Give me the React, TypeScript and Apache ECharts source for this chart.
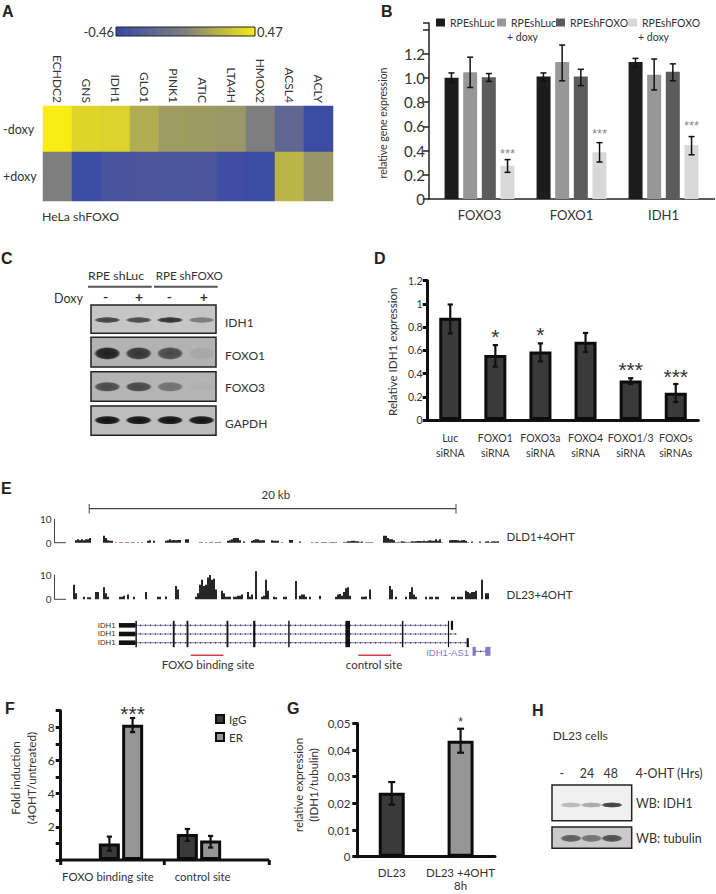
import React, { useEffect, useRef } from "react";
import * as echarts from "echarts";

const SANS = "Lato";
const ARIAL = "Liberation Sans";
const INK = "#333333";

// Panel A
const heatGenes = ["ECHDC2", "GNS", "IDH1", "GLO1", "PINK1", "ATIC", "LTA4H", "HMOX2", "ACSL4", "ACLY"];
const heatMinusDoxy = [0.47, 0.37, 0.36, 0.2, 0.13, 0.12, 0.11, 0.0, -0.2, -0.42];
const heatPlusDoxy = [0.0, -0.42, -0.35, -0.34, -0.33, -0.34, -0.41, -0.42, 0.24, 0.1];
const heatColors = ["#3747a6", "#7f7f7f", "#f7ec13"];
const heatRange = [-0.46, 0.47];

// Panel B
const bGroups = ["FOXO3", "FOXO1", "IDH1"];
const bNames = ["RPEshLuc", "RPEshLuc + doxy", "RPEshFOXO", "RPEshFOXO + doxy"];
const bColors = ["#1c1c1c", "#979797", "#5c5c5c", "#d8d8d8"];
const bValues = [
  [1.0, 1.01, 1.13],
  [1.045, 1.13, 1.025],
  [1.005, 1.01, 1.05],
  [0.275, 0.385, 0.445],
];
const bLow = [
  [0.96, 0.975, 1.09],
  [0.92, 0.975, 0.9],
  [0.97, 0.935, 0.975],
  [0.22, 0.305, 0.365],
];
const bHigh = [
  [1.04, 1.04, 1.16],
  [1.17, 1.27, 1.155],
  [1.035, 1.07, 1.115],
  [0.325, 0.465, 0.515],
];
const bStarY = [0.413, 0.575, 0.646];

// Panel D
const dCats = ["Luc\nsiRNA", "FOXO1\nsiRNA", "FOXO3a\nsiRNA", "FOXO4\nsiRNA", "FOXO1/3\nsiRNA", "FOXOs\nsiRNAs"];
const dValues = [0.88, 0.56, 0.59, 0.675, 0.34, 0.235];
const dLow = [0.745, 0.46, 0.505, 0.585, 0.31, 0.155];
const dHigh = [0.995, 0.645, 0.66, 0.75, 0.36, 0.31];
const dStars = ["", "*", "*", "", "***", "***"];
const dStarY = [0, 0.78, 0.8, 0, 0.5, 0.435];

// Panel E: read-depth per 2 px genome bin
const trackDLD1 = [
  0, 1, 1.5, 1, 1.5, 1, 1.5, 1.5, 2, 0,
  0, 0, 0, 0, 0, 3, 2, 1, 0.8, 0.8,
  0, 0.3, 0, 0.3, 0.3, 0, 0.3, 0.3, 0, 0.3,
  0.3, 0, 0.3, 0, 0.3, 0, 0, 0.8, 1, 0,
  0.8, 0, 0, 0, 0, 0, 0.8, 1, 1.5, 1,
  1.2, 1, 1.2, 1.2, 0, 0, 1.5, 1.5, 0, 0,
  0, 0, 0, 0.3, 0.3, 0, 0.3, 0, 0.3, 0.4,
  0, 0.3, 0.3, 0.4, 0, 0, 0, 0.8, 1, 1.5,
  2, 2, 2, 1, 0, 0.5, 0, 0, 0, 0.8,
  1.2, 1.5, 1.5, 1, 1, 1, 0, 0, 0, 1,
  0.8, 0.8, 0.8, 0, 0.3, 0, 0, 0, 1.2, 1.2,
  0, 0, 0, 0.5, 0, 0, 0, 0, 0, 0.3,
  0, 0.3, 0.3, 0, 0.3, 0.3, 0.3, 0, 0.3, 0.3,
  0.3, 0.3, 0, 0, 0, 0.4, 0.4, 0.6, 0.6, 0.8,
  0.8, 0.6, 0.6, 0.4, 0.5, 0, 0.3, 0.3, 0.3, 0.3,
  0, 0, 0, 0, 0, 3, 3, 2, 1.5, 1.5,
  1, 0.3, 0.4, 0.4, 0.6, 0.5, 0.4, 0.3, 0.4, 0.6,
  0.5, 0.6, 0.7, 0.7, 0.6, 0.8, 0.6, 0.8, 1, 0.8,
  0.8, 1.5, 0.8, 1.5, 0.3, 0, 0, 0, 1, 1.2,
  1.2, 1.2, 1, 0.8, 1, 1.2, 0.8, 0.3, 0, 0.5,
  0, 0, 0, 0.5, 0, 0, 0.5, 0.6, 0.3, 0.5,
  0.6, 0.5, 0.6,
];
const trackDL23 = [
  6, 2.5, 0, 0, 0, 1, 0, 0.8, 0.8, 0,
  0, 3, 3, 0, 0, 5, 2.5, 1, 0, 0,
  0, 0, 0, 1, 1, 1.5, 0, 2, 0, 0,
  1, 0, 0, 0, 0, 0, 3, 0, 0, 0,
  0, 0, 1, 1, 0, 0, 1.2, 0, 0, 0,
  0, 5.5, 4, 0, 0, 0, 0, 0, 0, 0,
  0, 1, 2.5, 6, 8, 5.5, 6, 9, 10, 8,
  8.5, 4, 0, 0, 3.5, 2.5, 1, 1, 1, 0,
  1, 1, 1.5, 1.5, 2, 0, 0, 3, 1, 2,
  0, 11.5, 0, 0, 1, 1.5, 8, 3.5, 0, 0,
  1, 0.8, 0, 0, 0, 1, 1, 0, 0, 0,
  0, 7.5, 0, 1.5, 2, 2, 1, 0, 1, 0,
  0, 0, 0, 1.5, 0, 0, 0, 0, 0, 0,
  0, 1, 2, 2.2, 1.5, 3, 4.5, 5, 1.5, 0,
  0, 0, 0, 0, 1, 1, 1.2, 0, 4, 0,
  0, 0, 0, 0, 0, 0, 0, 0, 5.5, 4,
  0, 1, 0, 0, 0, 0, 1, 0, 3, 5,
  2, 1, 0, 0, 0, 0, 1, 0, 1, 1,
  0, 1, 1, 0, 0, 0, 0, 0, 0, 1,
  1, 0, 1, 1, 1, 0, 3.5, 3, 2.5, 3,
  3, 3.5, 0, 0, 8, 0, 2.5, 2.5, 0, 0,
  0, 0, 0,
];
const trackBins = trackDL23.map((_, i) => String(i));
// gene model, kb from the left end of the 20 kb bar: [start, end, row, kind]
const geneRows = ["IDH1", "IDH1", "IDH1", ""];
const geneIntrons = [
  [2.5, 19.6, 0],
  [2.5, 20.04, 1],
  [2.5, 20.6, 2],
  [21.05, 21.65, 3],
];
const sharedExons = [[1.62, 2.52, "utr"], [2.52, 2.6, "cds"], [4.56, 4.66, "cds"], [5.31, 5.41, "cds"], [7.49, 7.59, "cds"], [8.94, 9.06, "cds"], [10.85, 10.93, "cds"], [13.97, 14.22, "cds"], [17.05, 17.13, "cds"], [19.56, 19.62, "cds"]];
const extraExons = [[19.72, 19.84, 0, "cds"], [20.58, 20.7, 2, "cds"], [20.9, 21.08, 3, "as"], [21.6, 21.88, 3, "as"]];
const siteSpans = [[5.54, 7.32], [14.67, 16.46]];
const siteNames = ["FOXO binding site", "control site"];

// Panel F
const fCats = ["FOXO binding site", "control site"];
const fIgG = [1.0, 1.57];
const fER = [8.15, 1.17];
const fIgGLow = [0.56, 1.15];
const fIgGHigh = [1.41, 1.87];
const fERLow = [7.71, 0.75];
const fERHigh = [8.56, 1.45];

// Panel G
const gCats = ["DL23", "DL23 +4OHT\n8h"];
const gValues = [0.024, 0.0435];
const gLow = [0.0195, 0.039];
const gHigh = [0.028, 0.048];

// Panel C and H blots: band strength per lane
const cLanes = ["-", "+", "-", "+"];
const cProteins = ["IDH1", "FOXO1", "FOXO3", "GAPDH"];
const cBands = [
  [0.72, 0.68, 0.82, 0.42],
  [0.92, 0.78, 0.66, 0.07],
  [0.66, 0.68, 0.42, 0.03],
  [1, 1, 1, 1],
];
const hLanes = ["-", "24", "48"];
const hProteins = ["IDH1", "tubulin"];
const hBands = [
  [0.25, 0.32, 0.8],
  [0.6, 0.48, 0.68],
];

const txt = (x: number, y: number, text: string, size: number, o: any = {}) => ({
  type: "text",
  x,
  y,
  rotation: o.rotation || 0,
  silent: true,
  style: {
    text,
    fill: o.fill || INK,
    fontFamily: o.family || SANS,
    fontSize: size,
    fontWeight: o.weight || "normal",
    align: o.align || "left",
    verticalAlign: "middle",
    lineHeight: o.lineHeight,
  },
});
const seg = (x1: number, y1: number, x2: number, y2: number, stroke: string, lineWidth: number) => ({
  type: "line",
  silent: true,
  shape: { x1, y1, x2, y2 },
  style: { stroke, lineWidth },
});
const box = (x: number, y: number, width: number, height: number, fill: any, stroke: string, lineWidth: number) => ({
  type: "rect",
  silent: true,
  z: 1,
  shape: { x, y, width, height },
  style: { fill, stroke, lineWidth },
});

// Error bars with optional significance stars, on the axes of one grid.
function errorSeries(axis: number, low: number[], high: number[], o: any) {
  return {
    type: "custom",
    xAxisIndex: axis,
    yAxisIndex: axis,
    silent: true,
    clip: false,
    z: 5,
    encode: { x: 0, y: [1, 2] },
    data: low.map((l, i) => [i, l, high[i]]),
    renderItem: (params: any, api: any) => {
      const i = params.dataIndex;
      const a = api.coord([api.value(0), api.value(1)]);
      const b = api.coord([api.value(0), api.value(2)]);
      const x = a[0] + (o.offset || 0);
      const st = { stroke: o.color || "#111", lineWidth: o.lw };
      const children: any[] = [
        { type: "line", shape: { x1: x, y1: a[1], x2: x, y2: b[1] }, style: st },
        { type: "line", shape: { x1: x - o.cap, y1: a[1], x2: x + o.cap, y2: a[1] }, style: st },
        { type: "line", shape: { x1: x - o.cap, y1: b[1], x2: x + o.cap, y2: b[1] }, style: st },
      ];
      if (o.stars && o.stars[i]) {
        const p = api.coord([api.value(0), o.starY[i]]);
        children.push({
          type: "text",
          x,
          y: p[1] + o.starSize * 0.34,
          style: {
            text: o.stars[i],
            fill: o.starColor || INK,
            fontFamily: ARIAL,
            fontSize: o.starSize,
            align: "center",
            verticalAlign: "middle",
          },
        });
      }
      return { type: "group", children };
    },
  };
}

function blotSeries(axis: number, bands: number[][], o: any) {
  const data: number[][] = [];
  bands.forEach((row, r) => row.forEach((v, l) => data.push([l, r, v])));
  return {
    type: "custom",
    xAxisIndex: axis,
    yAxisIndex: axis,
    silent: true,
    clip: false,
    z: 3,
    encode: { x: 0, y: 1 },
    data,
    renderItem: (_: any, api: any) => {
      const c = api.coord([api.value(0), api.value(1)]);
      const s = api.value(2);
      const ry = o.ry[api.value(1)];
      const col = (alpha: number) => `rgba(15,15,15,${alpha})`;
      return {
        type: "ellipse",
        shape: { cx: c[0], cy: c[1], rx: o.rx, ry },
        style: {
          fill: new echarts.graphic.RadialGradient(0.5, 0.5, 0.5, [
            { offset: 0, color: col(s) },
            { offset: 0.78, color: col(s * 0.88) },
            { offset: 1, color: col(0) },
          ]),
        },
      };
    },
  };
}

function geneSeries(axis: number) {
  const draw: any[] = [];
  geneIntrons.forEach(([a, b, r]) => draw.push([a, b, r, 0]));
  sharedExons.forEach(([a, b, k]: any) => {
    [0, 1, 2].forEach((r) => draw.push([a, b, r, k === "utr" ? 1 : 2]));
  });
  extraExons.forEach(([a, b, r, k]: any) => draw.push([a, b, r, k === "as" ? 3 : 2]));
  return {
    type: "custom",
    xAxisIndex: axis,
    yAxisIndex: axis,
    silent: true,
    clip: false,
    z: 3,
    encode: { x: [0, 1], y: 2 },
    data: draw,
    renderItem: (_: any, api: any) => {
      const p0 = api.coord([api.value(0), api.value(2)]);
      const p1 = api.coord([api.value(1), api.value(2)]);
      const kind = api.value(3);
      if (kind === 0) {
        const purple = api.value(2) === 3 ? "#7f80c4" : "#7d7ab8";
        return {
          type: "group",
          children: [
            { type: "line", shape: { x1: p0[0], y1: p0[1], x2: p1[0], y2: p0[1] }, style: { stroke: purple, lineWidth: 1 } },
            { type: "line", shape: { x1: p0[0], y1: p0[1], x2: p1[0], y2: p0[1] }, style: { stroke: "#3d3a78", lineWidth: 1.6, lineDash: [1, 4] } },
          ],
        };
      }
      const h = kind === 1 ? 4.6 : 9;
      return {
        type: "rect",
        shape: { x: p0[0], y: p0[1] - h / 2, width: Math.max(p1[0] - p0[0], 1.2), height: h },
        style: { fill: kind === 3 ? "#7f80c4" : "#111" },
      };
    },
  };
}

const noAxis = { show: false };
const axisText = (fontSize: number, o: any = {}) => ({ color: INK, fontFamily: SANS, fontSize, ...o });

function buildOption() {
  const grids = [
    { left: 42, top: 106, width: 291, height: 46 }, // 0 heat -doxy
    { left: 42, top: 152, width: 291, height: 49 }, // 1 heat +doxy
    { left: 433.5, top: 23, width: 276, height: 176 }, // 2 B
    { left: 427.7, top: 280.7, width: 270.6, height: 139.3 }, // 3 D
    { left: 73, top: 519.3, width: 426, height: 23.4 }, // 4 DLD1
    { left: 73, top: 575, width: 426, height: 24.3 }, // 5 DL23
    { left: 52.52, top: 621, width: 513.5, height: 34.7 }, // 6 gene kb
    { left: 82, top: 710.7, width: 156, height: 149.3 }, // 7 F
    { left: 357.3, top: 723.4, width: 137.7, height: 133.3 }, // 8 G
    { left: 91.6, top: 303.3, width: 125.6, height: 133.6 }, // 9 blot C
    { left: 560.75, top: 788.3, width: 61.5, height: 66.7 }, // 10 blot H
  ];
  const catX = (gridIndex: number, data: string[], extra: any = {}) => ({ type: "category", gridIndex, data, ...extra });

  const thick = { color: "#111", width: 3 };
  const xAxis: any[] = [
    catX(0, heatGenes, {
      position: "top",
      axisLine: noAxis,
      axisTick: noAxis,
      axisLabel: { ...axisText(12), rotate: 90, margin: 3, interval: 0 },
    }),
    catX(1, heatGenes, { show: false }),
    catX(2, bGroups, {
      axisLine: noAxis,
      axisTick: noAxis,
      axisLabel: { ...axisText(13), margin: 9 },
    }),
    catX(3, dCats, {
      axisLine: { lineStyle: thick },
      axisTick: { length: 5, alignWithLabel: false, lineStyle: thick },
      axisLabel: { ...axisText(10.5), margin: 11, lineHeight: 14.5, interval: 0 },
    }),
    catX(4, trackBins, { show: false }),
    catX(5, trackBins, { show: false }),
    { type: "value", gridIndex: 6, min: -2, max: 26, show: false },
    catX(7, fCats, { show: false }),
    catX(8, gCats, {
      axisLine: { lineStyle: thick },
      axisTick: { length: 5, lineStyle: thick },
      axisLabel: { ...axisText(11.5), margin: 9, lineHeight: 13.5, interval: 0 },
    }),
    catX(9, cLanes, { show: false }),
    catX(10, hLanes, { show: false }),
  ];
  const yAxis: any[] = [
    {
      type: "category",
      gridIndex: 0,
      data: ["-doxy"],
      axisLine: noAxis,
      axisTick: noAxis,
      axisLabel: { ...axisText(12.5), align: "left", margin: 40 },
    },
    {
      type: "category",
      gridIndex: 1,
      data: ["+doxy"],
      axisLine: noAxis,
      axisTick: noAxis,
      axisLabel: { ...axisText(12.5), align: "left", margin: 40 },
    },
    {
      type: "value",
      gridIndex: 2,
      min: 0,
      max: 1.452,
      interval: 0.2,
      offset: 4.5,
      splitLine: noAxis,
      axisLine: { show: true, lineStyle: { color: "#222", width: 1.5 } },
      axisTick: { show: true, length: 6, lineStyle: { color: "#222", width: 1.5 } },
      axisLabel: {
        ...axisText(15),
        margin: 4,
        formatter: (v: number) => (v === 0 ? "0" : v > 1.3 ? "" : v.toFixed(1)),
      },
    },
    {
      type: "value",
      gridIndex: 3,
      min: 0,
      max: 1.2,
      interval: 0.2,
      splitLine: noAxis,
      axisLine: { show: true, lineStyle: thick },
      axisTick: { show: true, length: 5, lineStyle: thick },
      axisLabel: { ...axisText(10.5), margin: 5 },
    },
    ...[4, 5].map((g) => ({
      type: "value",
      gridIndex: g,
      min: 0,
      max: 10,
      interval: 10,
      offset: 18.4,
      splitLine: noAxis,
      axisLine: { show: true, lineStyle: { color: "#444", width: 1 } },
      axisTick: noAxis,
      axisLabel: { ...axisText(10), margin: 3 },
    })),
    { type: "category", gridIndex: 6, data: geneRows, inverse: true, show: false },
    {
      type: "value",
      gridIndex: 7,
      min: 0,
      max: 9,
      interval: 1,
      offset: 21.3,
      splitLine: noAxis,
      axisLine: { show: true, lineStyle: thick },
      axisTick: { show: true, length: 5, lineStyle: thick },
      axisLabel: {
        ...axisText(12),
        margin: 6,
        formatter: (v: number) => (v > 0 && v % 2 === 0 ? String(v) : ""),
      },
    },
    {
      type: "value",
      gridIndex: 8,
      min: 0,
      max: 0.05,
      interval: 0.01,
      splitLine: noAxis,
      axisLine: { show: true, lineStyle: thick },
      axisTick: { show: true, length: 5, lineStyle: thick },
      axisLabel: {
        ...axisText(11.5),
        margin: 7,
        formatter: (v: number) => (v === 0 ? "0" : v.toFixed(2).replace(".", ",")),
      },
    },
    { type: "category", gridIndex: 9, data: cProteins, inverse: true, show: false },
    { type: "category", gridIndex: 10, data: hProteins, inverse: true, show: false },
  ];

  const series: any[] = [
    {
      type: "heatmap",
      xAxisIndex: 0,
      yAxisIndex: 0,
      silent: true,
      data: heatMinusDoxy.map((v, i) => [i, 0, v]),
    },
    {
      type: "heatmap",
      xAxisIndex: 1,
      yAxisIndex: 1,
      silent: true,
      data: heatPlusDoxy.map((v, i) => [i, 0, v]),
    },
  ];

  bNames.forEach((name, k) => {
    series.push({
      type: "bar",
      name,
      xAxisIndex: 2,
      yAxisIndex: 2,
      barWidth: 14,
      barGap: "33%",
      silent: true,
      itemStyle: { color: bColors[k] },
      data: bValues[k],
    });
  });
  const bStep = 18.7;
  bNames.forEach((_, k) => {
    series.push(
      errorSeries(2, bLow[k], bHigh[k], {
        offset: (k - 1.5) * bStep,
        cap: 3,
        lw: 1.5,
        color: "#111",
        stars: k === 3 ? ["***", "***", "***"] : undefined,
        starY: bStarY,
        starSize: 13,
        starColor: "#8a8a8a",
      })
    );
  });

  const bordered = { borderColor: "#0c0c0c", borderWidth: 3 };
  series.push(
    {
      type: "bar",
      xAxisIndex: 3,
      yAxisIndex: 3,
      barWidth: 22,
      silent: true,
      itemStyle: { color: "#3a3a3a", ...bordered },
      data: dValues,
    },
    errorSeries(3, dLow, dHigh, { cap: 2.6, lw: 2.2, stars: dStars, starY: dStarY, starSize: 21 })
  );

  [
    { d: trackDLD1, a: 4 },
    { d: trackDL23, a: 5 },
  ].forEach(({ d, a }) => {
    series.push({
      type: "bar",
      xAxisIndex: a,
      yAxisIndex: a,
      barWidth: "100%",
      silent: true,
      clip: false,
      itemStyle: {
        color: (p: any) => (p.value > 0 && p.value < 0.45 ? "#a2589a" : "#262626"),
      },
      data: d,
    });
  });

  series.push(geneSeries(6));

  series.push(
    {
      type: "bar",
      name: "IgG",
      xAxisIndex: 7,
      yAxisIndex: 7,
      barWidth: 21,
      barGap: "11%",
      silent: true,
      itemStyle: { color: "#3a3a3a", ...bordered },
      data: fIgG,
    },
    {
      type: "bar",
      name: "ER",
      xAxisIndex: 7,
      yAxisIndex: 7,
      barWidth: 21,
      barGap: "11%",
      silent: true,
      itemStyle: { color: "#969696", ...bordered },
      data: fER,
    },
    errorSeries(7, fIgGLow, fIgGHigh, { offset: -11.6, cap: 2.6, lw: 2.2 }),
    errorSeries(7, fERLow, fERHigh, {
      offset: 11.6,
      cap: 2.6,
      lw: 2.2,
      stars: ["***", ""],
      starY: [9.26, 0],
      starSize: 21,
    })
  );

  series.push(
    {
      type: "bar",
      xAxisIndex: 8,
      yAxisIndex: 8,
      barWidth: 26,
      silent: true,
      itemStyle: {
        color: (p: any) => ["#3a3a3a", "#969696"][p.dataIndex],
        ...bordered,
      },
      data: gValues,
    },
    errorSeries(8, gLow, gHigh, {
      cap: 3.5,
      lw: 2.2,
      stars: ["", "*"],
      starY: [0, 0.0521],
      starSize: 12,
    })
  );

  series.push(
    blotSeries(9, cBands, { rx: 13.5, ry: [3, 6.5, 5, 4.4] }),
    blotSeries(10, hBands, { rx: 11, ry: [2.8, 3.8] })
  );

  const legendBase = {
    orient: "horizontal",
    icon: "rect",
    itemWidth: 9,
    itemHeight: 8,
    padding: 0,
    selectedMode: false,
    textStyle: axisText(10.5),
  };
  const legend: any[] = [
    { ...legendBase, data: [bNames[0]], left: 436, top: 17 },
    { ...legendBase, data: [bNames[1]], left: 497, top: 17, formatter: (n: string) => n.split(" + ")[0] },
    { ...legendBase, data: [bNames[2]], left: 556, top: 17 },
    { ...legendBase, data: [bNames[3]], left: 628, top: 17, formatter: (n: string) => n.split(" + ")[0] },
    {
      orient: "vertical",
      icon: "rect",
      data: ["IgG", "ER"],
      left: 215,
      top: 713,
      itemWidth: 8,
      itemHeight: 8,
      itemGap: 6,
      padding: 0,
      selectedMode: false,
      textStyle: axisText(11.5),
    },
  ];

  const letter = { family: ARIAL, weight: "bold", fill: "#222" };
  const g: any[] = [
    // panel letters
    txt(2, 11, "A", 16, letter),
    txt(381, 11, "B", 16, letter),
    txt(1, 258, "C", 16, letter),
    txt(374, 258, "D", 16, letter),
    txt(1, 488, "E", 16, letter),
    txt(5, 708, "F", 16, letter),
    txt(287, 708, "G", 16, letter),
    txt(532, 710, "H", 16, letter),
    // A colour bar
    {
      ...box(
        116,
        27,
        139,
        9,
        new echarts.graphic.LinearGradient(0, 0, 1, 0, [
          { offset: 0, color: heatColors[0] },
          { offset: 0.5, color: heatColors[1] },
          { offset: 1, color: heatColors[2] },
        ]),
        "#222",
        1
      ),
      z: 10,
    },
    txt(114, 31.5, String(heatRange[0]), 13, { align: "right" }),
    txt(257, 31.5, String(heatRange[1]), 13),
    txt(42, 216, "HeLa shFOXO", 12.3),
    // B
    seg(429, 199, 715, 199, "#222", 1.5),
    txt(383, 123, "relative gene expression", 10.5, { rotation: Math.PI / 2, align: "center" }),
    txt(507, 37, "+ doxy", 10.5),
    txt(638, 37, "+ doxy", 10.5),
    // C
    txt(88, 275, "RPE shLuc", 12.3),
    txt(155.7, 275, "RPE shFOXO", 11.6),
    seg(88, 286.7, 151.7, 286.7, "#555", 2),
    seg(154, 286.7, 217.7, 286.7, "#555", 2),
    txt(54, 298, "Doxy", 12.5),
    ...cLanes.map((s, i) =>
      txt([105.7, 139, 169.3, 203.7][i], 296.7, s, 14, { align: "center", weight: "bold" })
    ),
    box(91, 305, 125, 28.3, "#c6c6c6", "#222", 1.5),
    box(91, 337.3, 125, 29.7, "#b2b2b2", "#222", 1.5),
    box(91, 371.7, 125, 29.6, "#b4b4b4", "#222", 1.5),
    box(91, 406, 125, 29.3, "#bdbdbd", "#222", 1.5),
    ...cProteins.map((s, i) => txt(225, [322.7, 355, 387, 423][i], s, 12)),
    // D
    txt(392.7, 351.7, "Relative IDH1 expression", 11.6, { rotation: Math.PI / 2, align: "center" }),
    // E
    txt(275.8, 494, "20 kb", 11.5, { align: "center" }),
    seg(89.2, 508.7, 456, 508.7, "#444", 1.2),
    seg(89.2, 504, 89.2, 513.5, "#444", 1),
    seg(456, 504, 456, 513.5, "#444", 1),
    seg(54.6, 542.7, 66, 542.7, "#444", 1),
    seg(54.6, 599.3, 66, 599.3, "#444", 1),
    txt(506.5, 536.7, "DLD1+4OHT", 11.5),
    txt(506.5, 594.3, "DL23+4OHT", 11.5),
    ...geneRows
      .filter((s) => s)
      .map((s, i) => txt(115.5, 625.3 + 8.67 * i, s, 7.8, { family: ARIAL, align: "right" })),
    txt(469, 652.3, "IDH1-AS1", 9.5, { family: ARIAL, align: "right", fill: "#7f80c4" }),
    ...siteSpans.map((sp) => seg(89.2 + sp[0] * 18.34, 655.3, 89.2 + sp[1] * 18.34, 655.3, "#c8414b", 1.5)),
    txt(208, 664.5, siteNames[0], 11.5, { align: "center" }),
    txt(374, 664.5, siteNames[1], 11.5, { align: "center" }),
    // F
    seg(60.7, 860, 269.3, 860, "#111", 3),
    seg(60.7, 860, 60.7, 865, "#111", 3),
    seg(164.3, 860, 164.3, 865, "#111", 3),
    seg(269.3, 860, 269.3, 865, "#111", 3),
    txt(15, 778, "Fold induction", 11.7, { rotation: Math.PI / 2, align: "center" }),
    txt(31, 778, "(4OHT/untreated)", 11.7, { rotation: Math.PI / 2, align: "center" }),
    txt(108, 876, fCats[0], 11.4, { align: "center" }),
    txt(202.7, 876, fCats[1], 11.4, { align: "center" }),
    // G
    txt(298, 785, "relative expression", 11.5, { rotation: Math.PI / 2, align: "center" }),
    txt(313, 785, "(IDH1/tubulin)", 11.5, { rotation: Math.PI / 2, align: "center" }),
    // H
    txt(552.7, 735, "DL23 cells", 12),
    ...hLanes.map((s, i) => txt([561.7, 587, 610.7][i], 773.7, s, 12.4, { align: "center" })),
    txt(635.7, 773.7, "4-OHT (Hrs)", 12.4),
    box(552, 785, 79.7, 35.7, "#f0f0f0", "#222", 1.5),
    box(552, 827, 79.7, 21.3, "#cacaca", "#222", 1.5),
    txt(636, 803, "WB: IDH1", 12.4),
    txt(636, 838, "WB: tubulin", 12.5),
  ];

  return {
    animation: false,
    backgroundColor: "#ffffff",
    grid: grids,
    xAxis,
    yAxis,
    series,
    legend,
    visualMap: {
      type: "continuous",
      show: false,
      seriesIndex: [0, 1],
      min: heatRange[0],
      max: heatRange[1],
      inRange: { color: heatColors },
    },
    graphic: { elements: g },
  };
}

export default function App() {
  const ref = useRef<HTMLDivElement>(null);
  useEffect(() => {
    document.body.style.margin = "0";
    const chart = echarts.init(ref.current!, undefined, { renderer: "svg" });
    chart.setOption(buildOption() as any);
    return () => chart.dispose();
  }, []);
  return <div ref={ref} style={{ width: 716, height: 894 }} />;
}
